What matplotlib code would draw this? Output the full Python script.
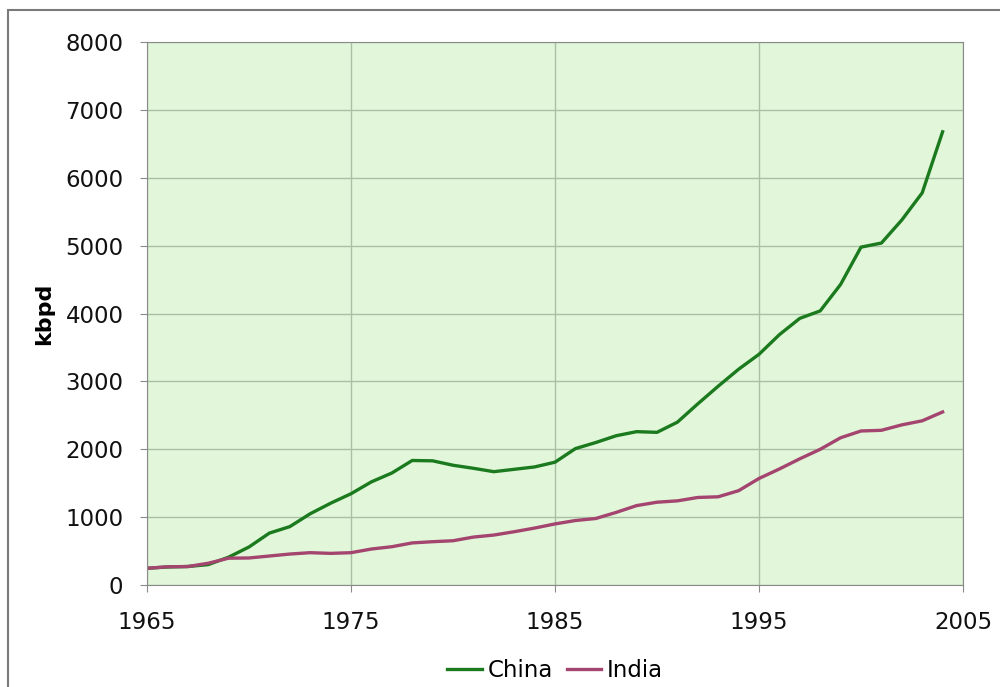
import matplotlib
matplotlib.use("Agg")
import matplotlib.pyplot as plt
from matplotlib.patches import Rectangle

years = list(range(1965, 2005))
china = [246, 265, 272, 300, 410, 560, 765, 860, 1050, 1205,
         1345, 1520, 1650, 1835, 1830, 1765, 1720, 1670, 1705, 1740,
         1810, 2010, 2100, 2200, 2260, 2250, 2400, 2670, 2930, 3180,
         3400, 3690, 3930, 4040, 4430, 4980, 5040, 5380, 5780, 6680]
india = [246, 268, 272, 320, 395, 398, 427, 456, 476, 466,
         476, 530, 564, 620, 638, 652, 706, 736, 785, 839,
         900, 950, 980, 1070, 1170, 1220, 1240, 1290, 1300, 1390,
         1570, 1710, 1860, 2000, 2170, 2270, 2280, 2360, 2420, 2550]

fig = plt.figure(figsize=(10, 6.87), dpi=100)
fig.patches.append(Rectangle((0.008, -0.02), 1.1, 1.005, transform=fig.transFigure,
                             fill=False, edgecolor="#7a7a7a", linewidth=1.5))

ax = fig.add_axes([0.147, 0.1485, 0.816, 0.790])
ax.set_facecolor("#e2f7da")

ax.plot(years, china, color="#1b7a1e", linewidth=2.4, label="China")
ax.plot(years, india, color="#a3456f", linewidth=2.4, label="India")

ax.set_xlim(1965, 2005)
ax.set_ylim(0, 8000)
ax.set_xticks([1965, 1975, 1985, 1995, 2005])
ax.set_yticks(range(0, 8001, 1000))
ax.grid(True, color="#a9bfa6", linewidth=1.0)
ax.set_axisbelow(True)
for s in ax.spines.values():
    s.set_color("#8a8a8a")
ax.tick_params(colors="#8a8a8a", labelcolor="#111111", labelsize=16.5, length=5)
ax.tick_params(axis="y", pad=12)
ax.tick_params(axis="x", pad=14)
ax.set_ylabel("kbpd", fontsize=16, fontweight="bold", labelpad=8)

ax.legend(loc="upper center", bbox_to_anchor=(0.5, -0.12), ncol=2, frameon=False,
          fontsize=16.5, handlelength=1.5, handletextpad=0.25, columnspacing=0.6,
          borderaxespad=0)

fig.savefig("out.png", dpi=100)
